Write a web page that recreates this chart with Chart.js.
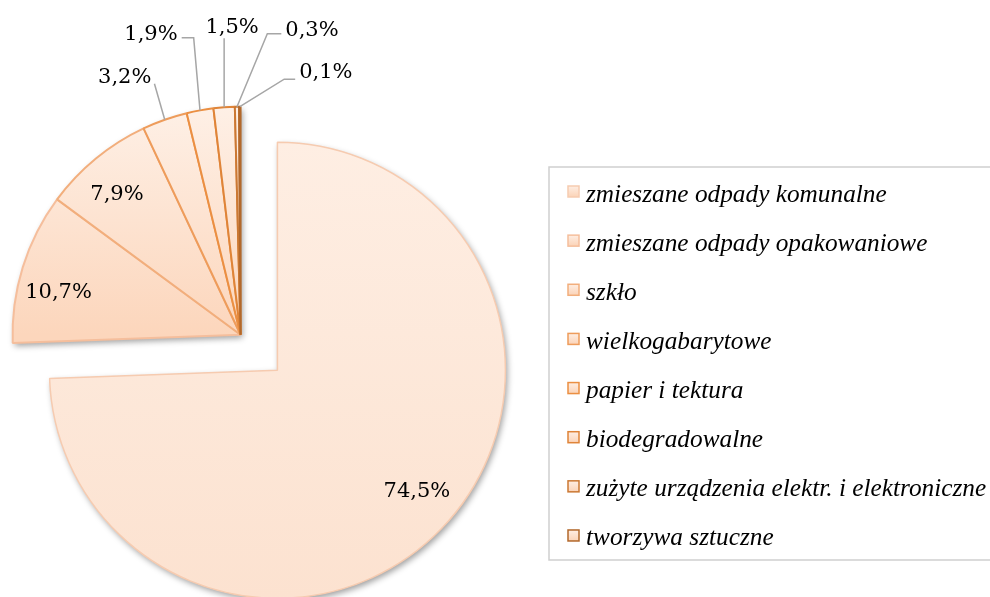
<!DOCTYPE html>
<html><head><meta charset="utf-8">
<script src="https://cdn.jsdelivr.net/npm/chart.js@4.4.1/dist/chart.umd.min.js"></script>
<style>html,body{margin:0;padding:0;background:#fff;overflow:hidden}</style>
</head><body>
<canvas id="c" width="990" height="597"></canvas>
<script>
// ---- data ----
const categories = [
  'zmieszane odpady komunalne',
  'zmieszane odpady opakowaniowe',
  'szkło',
  'wielkogabarytowe',
  'papier i tektura',
  'biodegradowalne',
  'zużyte urządzenia elektr. i elektroniczne',
  'tworzywa sztuczne'
];
const shares = [74.5, 10.7, 7.9, 3.2, 1.9, 1.5, 0.3, 0.1];
const percentLabels = shares.map(v => v.toFixed(1).replace('.', ',') + '%');

// ---- styles ----
const borderPalette = ['#F6CBB0', '#F5BE9C', '#F2AE7C', '#EE9C5B', '#EB8F42', '#DF8438', '#CB7833', '#B2682B'];
const RADIUS = 228;
const EXPLODE = 25.6;
const LABEL_FONT = '21px "DejaVu Serif", serif';
const LEGEND_FAMILY = '"Liberation Serif", serif';

function fillFor(c) {
  const chart = c.chart, area = chart.chartArea;
  if (!area) return '#FCE0CC';
  const cy = (area.top + area.bottom) / 2;
  const g = chart.ctx.createLinearGradient(0, cy - RADIUS, 0, c.dataIndex === 0 ? cy + RADIUS : cy);
  if (c.dataIndex === 0) {
    g.addColorStop(0, '#FEEEE3');
    g.addColorStop(1, '#FCE2D0');
  } else {
    g.addColorStop(0, '#FEF0E6');
    g.addColorStop(1, '#FCD6BC');
  }
  return g;
}

function groupOf(i) { return i === 0 ? [0] : [1, 2, 3, 4, 5, 6, 7]; }
function shiftFor(arcs, i) {
  const g = groupOf(i);
  const mid = (arcs[g[0]].startAngle + arcs[g[g.length - 1]].endAngle) / 2;
  return { dx: Math.cos(mid) * EXPLODE, dy: Math.sin(mid) * EXPLODE };
}

const explodePlugin = {
  id: 'explodeGroups',
  beforeDatasetDraw(chart, args) {
    const ctx = chart.ctx, arcs = args.meta.data;
    [[0], [1, 2, 3, 4, 5, 6, 7]].forEach(g => {
      const first = arcs[g[0]], last = arcs[g[g.length - 1]];
      const s = shiftFor(arcs, g[0]);
      ctx.save();
      ctx.translate(s.dx, s.dy);
      ctx.save();
      ctx.shadowColor = 'rgba(0,0,0,0.38)';
      ctx.shadowBlur = 6;
      ctx.shadowOffsetX = 2;
      ctx.shadowOffsetY = 3;
      ctx.beginPath();
      ctx.moveTo(first.x, first.y);
      ctx.arc(first.x, first.y, first.outerRadius, first.startAngle, last.endAngle);
      ctx.closePath();
      ctx.fillStyle = '#FCE4D3';
      ctx.fill();
      ctx.restore();
      g.forEach(i => arcs[i].draw(ctx));
      ctx.restore();
    });
    return false;
  }
};

// label placement (style): inside labels along bisector, outside labels offset from the arc edge
const insideCfg = { 0: { k: 0.81, rot: -3 }, 1: { k: 0.82, rot: -4 }, 2: { k: 0.82, rot: -2 } };
const outsideCfg = {
  3: { dx: -40, dy: -42, mode: 'corner' },
  4: { dx: -49, dy: -76, mode: 'elbow', elbow: 12, ly: 3.5 },
  5: { dx: 8, dy: -80, mode: 'vertical' },
  6: { dx: 75, dy: -76, mode: 'elbow', elbow: 14, ly: 3 },
  7: { dx: 86, dy: -34, mode: 'elbow', elbow: 11, ly: 6.5 }
};

const labelPlugin = {
  id: 'pctLabels',
  afterDatasetsDraw(chart) {
    const ctx = chart.ctx, arcs = chart.getDatasetMeta(0).data;
    ctx.save();
    ctx.font = LABEL_FONT;
    ctx.fillStyle = '#000';
    ctx.textBaseline = 'middle';
    ctx.textAlign = 'center';
    arcs.forEach((a, i) => {
      const s = shiftFor(arcs, i);
      const cx = a.x + s.dx, cy = a.y + s.dy;
      const mid = (a.startAngle + a.endAngle) / 2;
      if (insideCfg[i]) {
        const c = insideCfg[i];
        const ang = mid + c.rot * Math.PI / 180;
        const r = a.outerRadius * c.k;
        ctx.fillText(percentLabels[i], cx + Math.cos(ang) * r, cy + Math.sin(ang) * r);
        return;
      }
      const o = outsideCfg[i];
      if (!o) return;
      const px = cx + Math.cos(mid) * a.outerRadius, py = cy + Math.sin(mid) * a.outerRadius;
      const lx = px + o.dx, ly = py + o.dy;
      const w = ctx.measureText(percentLabels[i]).width;
      ctx.fillText(percentLabels[i], lx, ly);
      ctx.save();
      ctx.strokeStyle = '#A6A6A6';
      ctx.lineWidth = 1.5;
      ctx.beginPath();
      ctx.moveTo(px, py);
      if (o.mode === 'corner') {
        ctx.lineTo(lx + w / 2 + 3, ly + 6);
      } else if (o.mode === 'vertical') {
        ctx.lineTo(px, ly + 11);
      } else {
        const left = lx < px;
        const edge = left ? lx + w / 2 + 4 : lx - w / 2 - 4;
        const ex = left ? edge + o.elbow : edge - o.elbow;
        ctx.lineTo(ex, ly + o.ly);
        ctx.lineTo(edge, ly + o.ly);
      }
      ctx.stroke();
      ctx.restore();
    });
    ctx.restore();
  }
};

const legendPlugin = {
  id: 'boxLegend',
  afterDraw(chart) {
    const ctx = chart.ctx;
    const L = { left: 549, top: 167, bottom: 560, boxX: 568, firstY: 191.5, step: 49.14, box: 11, textX: 586 };
    const right = chart.width + 20;
    ctx.save();
    ctx.strokeStyle = '#D0D0D0';
    ctx.lineWidth = 1.5;
    ctx.beginPath();
    ctx.moveTo(right, L.top);
    ctx.lineTo(L.left, L.top);
    ctx.lineTo(L.left, L.bottom);
    ctx.lineTo(right, L.bottom);
    ctx.stroke();
    // fit font so the longest item spans its measured width in the picture
    ctx.font = 'italic 20px ' + LEGEND_FAMILY;
    const longest = Math.max(...categories.map(t => ctx.measureText(t).width));
    const size = Math.round(20 * 400 / longest * 10) / 10;
    ctx.font = 'italic ' + size + 'px ' + LEGEND_FAMILY;
    ctx.textBaseline = 'alphabetic';
    ctx.textAlign = 'left';
    categories.forEach((t, i) => {
      const y = L.firstY + i * L.step;
      const g = ctx.createLinearGradient(0, y - L.box / 2, 0, y + L.box / 2);
      g.addColorStop(0, '#FEEEE3');
      g.addColorStop(1, '#FBD3B7');
      ctx.fillStyle = g;
      ctx.fillRect(L.boxX, y - L.box / 2, L.box, L.box);
      ctx.strokeStyle = borderPalette[i];
      ctx.lineWidth = 1.5;
      ctx.strokeRect(L.boxX, y - L.box / 2, L.box, L.box);
      ctx.fillStyle = '#000';
      ctx.fillText(t, L.textX, y + 10);
    });
    ctx.restore();
  }
};

new Chart(document.getElementById('c'), {
  type: 'pie',
  data: {
    labels: categories,
    datasets: [{
      data: shares,
      backgroundColor: fillFor,
      borderColor: borderPalette,
      borderWidth: [1.5, 2, 2, 2, 2, 2, 2, 2],
      radius: RADIUS
    }]
  },
  options: {
    responsive: false,
    devicePixelRatio: 1,
    animation: false,
    events: [],
    layout: { padding: { left: 0, right: 472, top: 108, bottom: 0 } },
    plugins: { legend: { display: false }, tooltip: { enabled: false } }
  },
  plugins: [explodePlugin, labelPlugin, legendPlugin]
});
</script>
</body></html>
